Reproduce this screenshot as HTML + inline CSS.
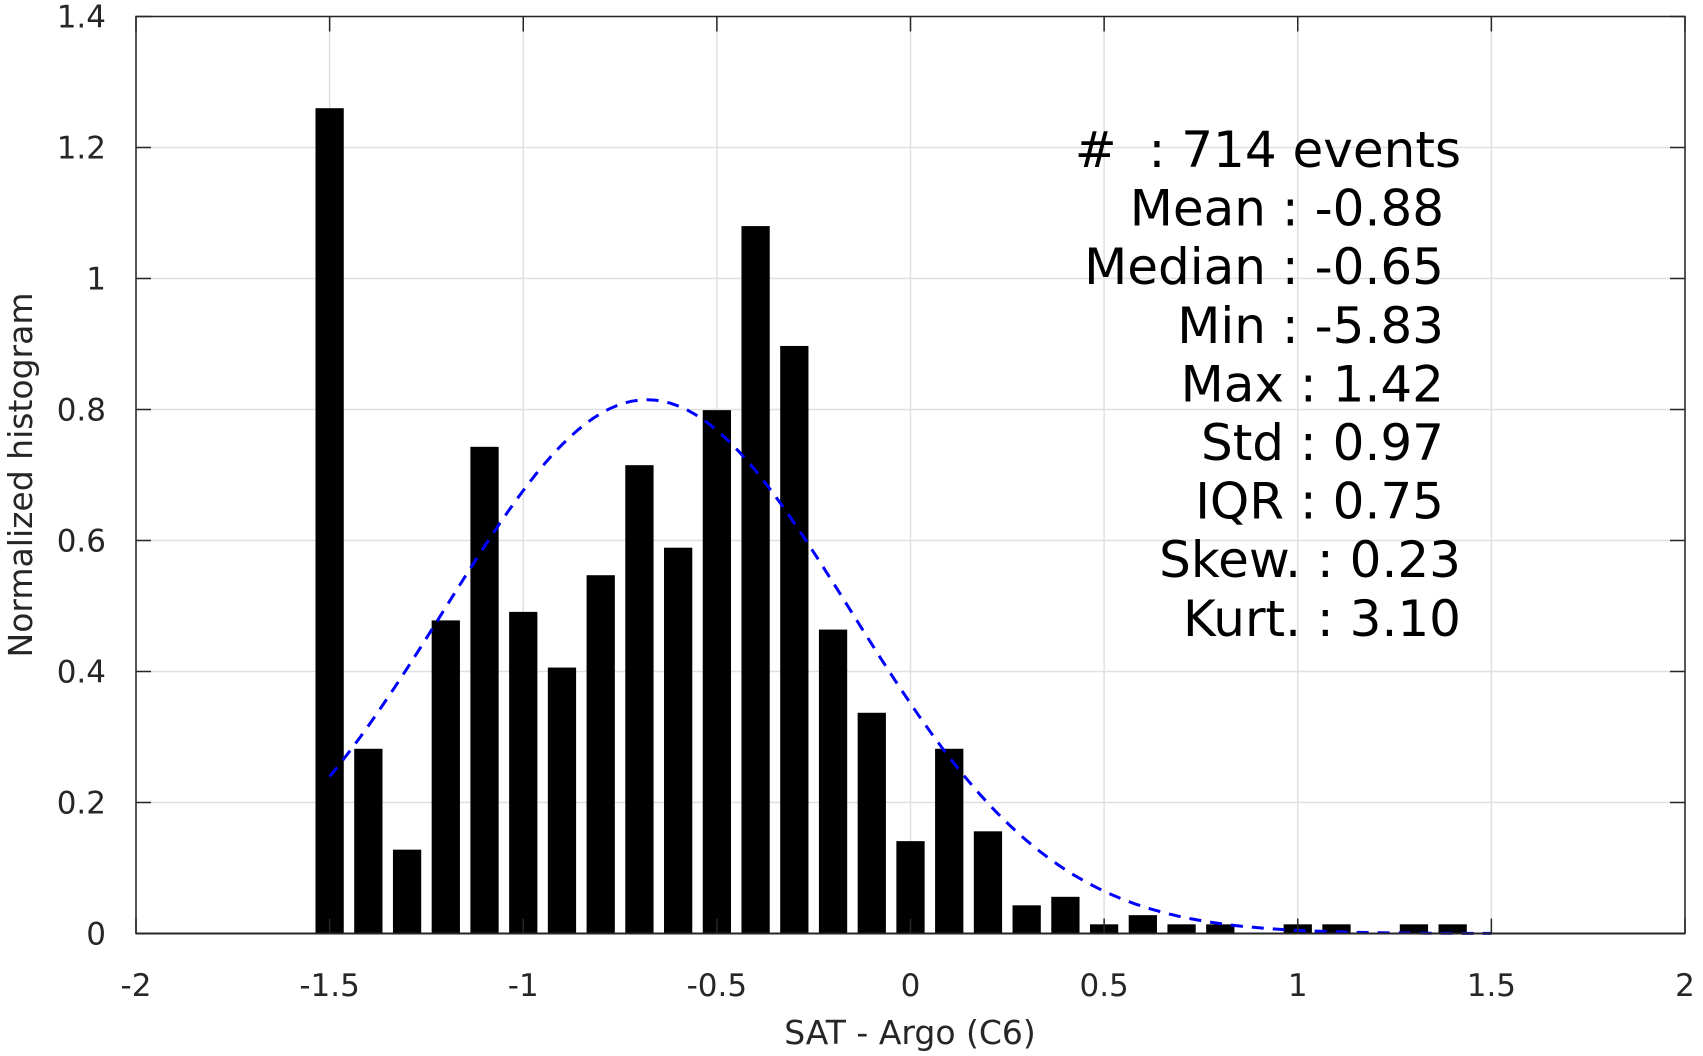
<!DOCTYPE html>
<html><head><meta charset="utf-8"><style>
body{margin:0;background:#fff}
svg{display:block;font-family:"DejaVu Sans","Liberation Sans",sans-serif}
</style></head><body>
<svg id="chart" width="1703" height="1056" viewBox="0 0 1703 1056" xmlns="http://www.w3.org/2000/svg">
<g id="grid"></g>
<g id="bars"></g>
<path id="fit" fill="none" stroke="#0000ff" stroke-width="3" stroke-dasharray="12,9"/>
<g id="axes"></g>
<text transform="translate(32,475) rotate(-90)" text-anchor="middle" font-size="33" fill="#262626">Normalized histogram</text>
<text x="910" y="1044" text-anchor="middle" font-size="33" fill="#262626">SAT - Argo (C6)</text>
<g id="stats" font-size="50" fill="#000" text-anchor="end"></g>
</svg>
<script>
const binCenters=[-1.5,-1.4,-1.3,-1.2,-1.1,-1.0,-0.9,-0.8,-0.7,-0.6,-0.5,-0.4,-0.3,-0.2,-0.1,0,0.1,0.2,0.3,0.4,0.5,0.6,0.7,0.8,0.9,1.0,1.1,1.2,1.3,1.4];
const binValues=[1.26,0.282,0.128,0.478,0.743,0.491,0.406,0.547,0.715,0.589,0.799,1.08,0.897,0.464,0.337,0.141,0.282,0.156,0.043,0.056,0.014,0.028,0.014,0.014,0,0.014,0.014,0,0.014,0.014];
const fitParams=[0.815,-0.68,0.524]; // peak, mean, sigma
const xTicks=[-2,-1.5,-1,-0.5,0,0.5,1,1.5,2];
const xTickLabels=["-2","-1.5","-1","-0.5","0","0.5","1","1.5","2"];
const yTicks=[0,0.2,0.4,0.6,0.8,1,1.2,1.4];
const yTickLabels=["0","0.2","0.4","0.6","0.8","1","1.2","1.4"];
const statLines=["#  : 714 events","Mean : -0.88","Median : -0.65","Min : -5.83","Max : 1.42","Std : 0.97","IQR : 0.75","Skew. : 0.23","Kurt. : 3.10"];
const statRightEdge=[1461,1444,1444,1444,1444,1444,1444,1461,1461];

const L=136,R=1685,T=16.5,B=933.5;
const X=v=>L+(v+2)/4*(R-L);
const Y=v=>B-v/1.4*(B-T);
const NS="http://www.w3.org/2000/svg";
function mk(tag,attrs,parent){const e=document.createElementNS(NS,tag);for(const k in attrs)e.setAttribute(k,attrs[k]);parent.appendChild(e);return e;}
const grid=document.getElementById('grid'),axes=document.getElementById('axes'),bars=document.getElementById('bars'),stats=document.getElementById('stats');
xTicks.forEach((t,i)=>{
 const g=mk('line',{x1:X(t),x2:X(t),y1:T,y2:B,stroke:'#e0e0e0','stroke-width':1.5},grid);
 
 
 const a=mk('line',{x1:X(t),x2:X(t),y1:B,y2:B-15,stroke:'#262626','stroke-width':1.5},axes);
 
 
 mk('line',{x1:X(t),x2:X(t),y1:T,y2:T+15,stroke:'#262626','stroke-width':1.5},axes);
 const tx=mk('text',{x:X(t),y:996,'text-anchor':'middle','font-size':31,fill:'#262626'},axes);
 tx.textContent=xTickLabels[i];
 
 
});
yTicks.forEach((t,i)=>{
 const g=mk('line',{x1:L,x2:R,y1:Y(t),y2:Y(t),stroke:'#e0e0e0','stroke-width':1.5},grid);
 
 
 mk('line',{x1:L,x2:L+15,y1:Y(t),y2:Y(t),stroke:'#262626','stroke-width':1.5},axes);
 mk('line',{x1:R,x2:R-15,y1:Y(t),y2:Y(t),stroke:'#262626','stroke-width':1.5},axes);
 const tx=mk('text',{x:106,y:Y(t)+11,'text-anchor':'end','font-size':31,fill:'#262626'},axes);
 tx.textContent=yTickLabels[i];
 
 
});
const box=mk('rect',{x:L,y:T,width:R-L,height:B-T,fill:'none',stroke:'#262626','stroke-width':1.5},axes);


const bw=0.073*(R-L)/4;
binCenters.forEach((c,i)=>{
 const v=binValues[i]; if(v<=0)return;
 const r=mk('rect',{x:X(c)-bw/2,y:Y(v),width:bw,height:B-Y(v),fill:'#000'},bars);
 
 
});
const ax=mk('line',{x1:L,x2:R,y1:B,y2:B,stroke:'#262626','stroke-width':2},axes);
let d='';
for(let k=0;k<=150;k++){const x=-1.5+k*0.02;const y=fitParams[0]*Math.exp(-Math.pow(x-fitParams[1],2)/(2*fitParams[2]*fitParams[2]));d+=(k?'L':'M')+X(x).toFixed(1)+','+Y(y).toFixed(1);}
document.getElementById('fit').setAttribute('d',d);
statLines.forEach((s,i)=>{
 const t=mk('text',{x:statRightEdge[i],y:167+i*58.6},stats);
 t.textContent=s;
 t.setAttribute('xml:space','preserve');
 t.style.whiteSpace='pre';
 
 
});
</script>
</body></html>
